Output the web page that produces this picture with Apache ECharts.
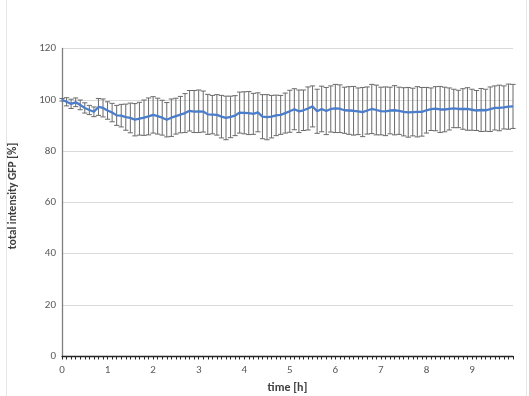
<!DOCTYPE html>
<html>
<head>
<meta charset="utf-8">
<script src="https://cdn.jsdelivr.net/npm/echarts@6/dist/echarts.min.js"></script>
<style>
html,body{margin:0;padding:0;background:#fff;}
#c{width:529px;height:396px;}
</style>
</head>
<body>
<div id="c"></div>
<script>
// time points every 0.1 h (index i -> t = i/10)
var timeCategories = [];
for (var k = 0; k < 100; k++) { timeCategories.push(String(k / 10)); }

var meanValues = [
 100.0, 99.2, 98.4, 99.0, 98.0, 96.8, 96.0, 95.3, 97.2, 96.8,
 95.8, 95.0, 93.9, 93.8, 93.2, 92.9, 92.2, 92.6, 93.0, 93.5,
 94.1, 93.6, 93.0, 92.2, 93.0, 93.6, 94.2, 94.8, 95.7, 95.4,
 95.5, 95.4, 94.3, 94.2, 94.1, 93.4, 92.9, 93.3, 93.8, 95.0,
 94.9, 94.8, 94.5, 95.1, 93.4, 93.2, 93.4, 93.9, 94.1, 94.8,
 95.5, 96.3, 95.5, 95.9, 96.6, 97.4, 95.5, 96.4, 95.6, 96.4,
 96.6, 96.5, 95.9, 95.8, 95.7, 95.5, 95.2, 95.8, 96.4, 96.0,
 95.6, 95.5, 95.8, 95.9, 95.7, 95.3, 95.1, 95.2, 95.3, 95.3,
 95.9, 96.3, 96.5, 96.2, 96.2, 96.4, 96.6, 96.4, 96.4, 96.4,
 96.1, 95.8, 96.0, 95.9, 96.3, 96.8, 96.8, 97.0, 97.3, 97.4
];

var errorValues = [
 0.5, 1.6, 1.8, 1.7, 1.9, 2.0, 1.8, 1.9, 3.3, 3.5,
 3.4, 3.6, 3.9, 4.4, 5.1, 5.8, 6.3, 6.4, 6.9, 7.2,
 7.1, 7.0, 6.8, 6.7, 7.3, 7.0, 7.1, 7.6, 7.9, 8.2,
 8.3, 8.0, 7.8, 7.5, 7.9, 8.3, 8.5, 8.1, 7.8, 8.0,
 8.2, 8.4, 8.0, 7.6, 8.6, 8.8, 8.3, 7.9, 7.6, 7.8,
 8.2, 8.0, 8.3, 7.9, 8.4, 8.0, 8.6, 8.9, 9.2, 9.0,
 9.4, 9.3, 9.0, 9.3, 9.5, 9.1, 9.6, 9.2, 9.6, 9.7,
 9.3, 9.5, 9.1, 9.6, 9.2, 9.4, 9.7, 9.3, 9.8, 9.5,
 8.9, 8.3, 8.6, 9.0, 8.7, 8.2, 7.5, 7.3, 7.9, 8.3,
 8.0, 7.8, 8.4, 8.2, 8.7, 8.6, 8.9, 8.4, 8.8, 8.6
];

var yTicks = [0, 20, 40, 60, 80, 100, 120];
var xAxisTitle = 'time [h]';
var yAxisTitle = 'total intensity GFP [%]';

var errData = meanValues.map(function (m, i) {
  return [i, m - errorValues[i], m + errorValues[i]];
});

var FONT = 'Carlito, Calibri, "Open Sans", sans-serif';
var chart = echarts.init(document.getElementById('c'));
chart.setOption({
  animation: false,
  backgroundColor: '#ffffff',
  grid: { left: 62, right: 16, top: 48.5, bottom: 40, containLabel: false, outerBoundsMode: 'none' },
  xAxis: {
    type: 'category',
    data: timeCategories,
    boundaryGap: false,
    name: xAxisTitle,
    nameLocation: 'middle',
    nameGap: 26,
    nameTextStyle: { color: '#404040', fontSize: 12, fontWeight: 'bold', fontFamily: FONT },
    axisLine: { lineStyle: { color: '#262626', width: 1.3 } },
    axisTick: { show: true, interval: 0, length: 3.5, lineStyle: { color: '#262626', width: 1 } },
    axisLabel: {
      interval: 9, color: '#595959', fontSize: 11, fontFamily: FONT, margin: 9,
      formatter: function (v) { return String(Math.round(parseFloat(v))); }
    },
    splitLine: { show: false }
  },
  yAxis: {
    type: 'value',
    min: yTicks[0], max: yTicks[yTicks.length - 1], interval: 20,
    axisLine: { show: true, lineStyle: { color: '#7f7f7f', width: 1.3 } },
    axisTick: { show: false },
    axisLabel: { color: '#595959', fontSize: 11, fontFamily: FONT, margin: 6 },
    splitLine: { lineStyle: { color: '#d9d9d9', width: 1 } }
  },
  graphic: [
    { type: 'line', shape: { x1: 6.5, y1: 0, x2: 6.5, y2: 396 }, style: { stroke: '#e6e6e6', lineWidth: 1 }, silent: true },
    { type: 'line', shape: { x1: 526.5, y1: 0, x2: 526.5, y2: 396 }, style: { stroke: '#e6e6e6', lineWidth: 1 }, silent: true },
    {
      type: 'text', x: 13, y: 196, rotation: Math.PI / 2, silent: true,
      style: {
        text: yAxisTitle, fill: '#404040', fontSize: 11.5, fontWeight: 'bold', fontFamily: FONT,
        align: 'center', verticalAlign: 'middle'
      }
    }
  ],
  series: [
    {
      type: 'custom',
      data: errData,
      z: 2,
      renderItem: function (params, api) {
        var i = api.value(0);
        var lo = api.coord([i, api.value(1)]);
        var hi = api.coord([i, api.value(2)]);
        var hw = 2.6;
        var st = { stroke: '#6a6a6a', lineWidth: 1 };
        return {
          type: 'group',
          children: [
            { type: 'line', shape: { x1: lo[0], y1: lo[1], x2: hi[0], y2: hi[1] }, style: st },
            { type: 'line', shape: { x1: hi[0] - hw, y1: hi[1], x2: hi[0] + hw, y2: hi[1] }, style: st },
            { type: 'line', shape: { x1: lo[0] - hw, y1: lo[1], x2: lo[0] + hw, y2: lo[1] }, style: st }
          ]
        };
      }
    },
    {
      type: 'line',
      data: meanValues,
      z: 3,
      showSymbol: false,
      symbol: 'none',
      smooth: false,
      lineStyle: { color: '#4a7dcb', width: 2.3 }
    }
  ]
});
</script>
</body>
</html>
